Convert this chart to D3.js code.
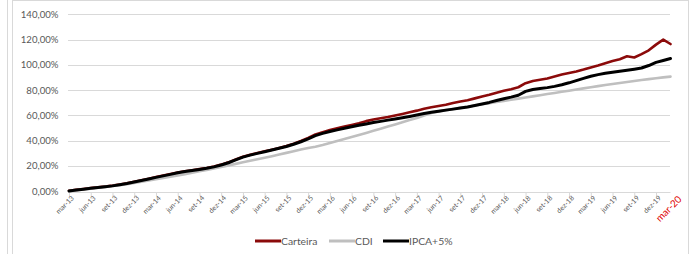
<!DOCTYPE html>
<html>
<head>
<meta charset="utf-8">
<script src="https://cdn.jsdelivr.net/npm/d3@7/dist/d3.min.js"></script>
<style>
  html, body { margin: 0; padding: 0; background: #fff; }
  svg { display: block; }
  text { font-family: Lato, "Open Sans", sans-serif; }
</style>
</head>
<body>
<svg id="chart" width="696" height="254"></svg>
<script>
// Months from mar-13 (index 0) to feb-20 (index 83)
const monthNames = ["mar","abr","mai","jun","jul","ago","set","out","nov","dez","jan","fev"];
const tickLabels = ["mar-13","jun-13","set-13","dez-13","mar-14","jun-14","set-14","dez-14",
  "mar-15","jun-15","set-15","dez-15","mar-16","jun-16","set-16","dez-16",
  "mar-17","jun-17","set-17","dez-17","mar-18","jun-18","set-18","dez-18",
  "mar-19","jun-19","set-19","dez-19"];
const lastLabel = "mar-20";
const yTicks = [0,20,40,60,80,100,120,140];

const ipca = [0.3,1.0,1.7,2.4,3.0,3.6,4.3,5.2,6.2,7.4,8.6,9.8,11.0,12.2,13.4,14.6,15.6,16.4,17.3,18.2,
  19.3,20.8,22.6,24.8,27.0,28.6,30.0,31.3,32.6,34.0,35.4,37.2,39.2,41.5,44.0,45.8,47.3,48.6,49.8,51.0,
  52.2,53.3,54.4,55.3,56.3,57.2,58.2,59.2,60.3,61.5,62.5,63.4,64.2,65.0,65.8,66.7,67.8,69.0,70.3,71.8,
  73.2,74.5,76.0,79.0,80.5,81.3,82.0,83.0,84.3,85.8,87.5,89.3,91.0,92.3,93.3,94.2,95.0,95.8,96.6,97.5,
  99.5,102.0,103.5,105.0];
const carteira = [0.4,1.1,1.8,2.5,3.1,3.8,4.5,5.4,6.4,7.6,8.8,10.0,11.2,12.4,13.6,14.8,15.8,16.6,17.6,18.5,
  19.6,21.1,22.9,25.1,27.3,28.9,30.3,31.6,32.9,34.3,35.8,37.7,39.8,42.2,45.0,46.8,48.4,49.8,51.2,52.5,
  53.8,55.5,56.8,57.8,58.8,60.0,61.2,62.5,63.8,65.3,66.5,67.5,68.4,69.8,71.0,72.0,73.5,75.0,76.3,78.0,
  79.5,80.8,82.3,85.5,87.3,88.2,89.2,90.8,92.3,93.6,94.8,96.3,98.0,99.5,101.3,103.0,104.5,106.8,105.8,108.5,
  111.5,116.0,120.0,116.5];
const cdi = [0.0,0.7,1.4,2.1,2.8,3.5,4.2,4.9,5.6,6.6,7.6,8.6,9.6,10.6,11.6,12.6,13.6,14.7,15.8,16.9,
  18.1,19.3,20.5,21.7,22.9,24.1,25.3,26.5,27.8,29.1,30.4,31.7,33.0,34.2,35.2,36.6,38.2,39.8,41.4,43.0,
  44.6,46.2,47.8,49.5,51.2,52.9,54.6,56.3,58.0,60.0,62.0,63.2,64.2,65.1,66.0,66.9,67.9,68.8,69.7,70.6,
  71.5,72.4,73.3,74.2,75.1,76.0,76.9,77.8,78.7,79.6,80.5,81.4,82.3,83.2,84.1,84.9,85.7,86.5,87.3,88.0,
  88.7,89.4,90.1,90.7];

const months = d3.range(ipca.length);
const series = [
  {name: "Carteira", values: carteira, color: "#8b0a0a", width: 2.6},
  {name: "CDI", values: cdi, color: "#bfbfbf", width: 2.6},
  {name: "IPCA+5%", values: ipca, color: "#000000", width: 3}
];

const svg = d3.select("#chart");

// frames
svg.append("line").attr("x1", 7.5).attr("x2", 7.5).attr("y1", 0).attr("y2", 254)
  .attr("stroke", "#d9d9d9");
svg.append("rect").attr("x", 12.5).attr("y", 0.5).attr("width", 676).attr("height", 270)
  .attr("fill", "none").attr("stroke", "#d9d9d9");

const x = d3.scaleLinear().domain([0, 83]).range([69, 670.5]);
const y = d3.scaleLinear().domain([0, 140]).range([191.3, 14.3]);

// gridlines
svg.append("g").selectAll("line").data(yTicks.slice(1)).join("line")
  .attr("x1", 68).attr("x2", 670)
  .attr("y1", d => Math.round(y(d)) + 0.5).attr("y2", d => Math.round(y(d)) + 0.5)
  .attr("stroke", "#d9d9d9").attr("stroke-width", 1);

// y labels
svg.append("g").selectAll("text").data(yTicks).join("text")
  .attr("x", 58.5).attr("y", d => y(d)).attr("dy", "0.35em")
  .attr("text-anchor", "end").attr("font-size", 9.6).attr("fill", "#595959")
  .text(d => d3.format(".2f")(d).replace(".", ",") + "%");

// x axis
const tickMonths = tickLabels.map((_, i) => i * 3);
const xAxis = d3.axisBottom(x).tickValues(tickMonths).tickSize(4).tickFormat("");
const gx = svg.append("g").attr("transform", "translate(0,192)").call(xAxis);
gx.select(".domain").attr("stroke", "#d9d9d9").attr("d", "M68,0.5H670.5");
gx.selectAll(".tick line").attr("stroke", "#d9d9d9");

svg.append("g").selectAll("text").data(tickLabels).join("text")
  .attr("transform", (d, i) => `translate(${x(i * 3) + 5.5},${198.5}) rotate(-45)`)
  .attr("text-anchor", "end").attr("font-size", 7).attr("fill", "#595959")
  .text(d => d);

svg.append("text")
  .attr("transform", `translate(${x(84) + 4.5},${200}) rotate(-45)`)
  .attr("text-anchor", "end").attr("font-size", 9.8).attr("fill", "#e00000")
  .text(lastLabel);

// lines
const line = d3.line().x((d, i) => x(months[i])).y(d => y(d));
svg.append("g").selectAll("path").data(series).join("path")
  .attr("d", s => line(s.values))
  .attr("fill", "none").attr("stroke", s => s.color).attr("stroke-width", s => s.width)
  .attr("stroke-linejoin", "round").attr("stroke-linecap", "round");

// legend
const legendItems = [
  {name: "Carteira", color: "#8b0a0a", x: 255},
  {name: "CDI", color: "#bfbfbf", x: 329},
  {name: "IPCA+5%", color: "#000000", x: 383}
];
const lg = svg.append("g").selectAll("g").data(legendItems).join("g")
  .attr("transform", d => `translate(${d.x},241)`);
lg.append("line").attr("x1", 0).attr("x2", 26).attr("y1", 0).attr("y2", 0)
  .attr("stroke", d => d.color).attr("stroke-width", 3);
lg.append("text").attr("x", 26).attr("y", 0).attr("dy", "0.35em")
  .attr("font-size", 10.4).attr("fill", "#595959").text(d => d.name);
</script>
</body>
</html>
